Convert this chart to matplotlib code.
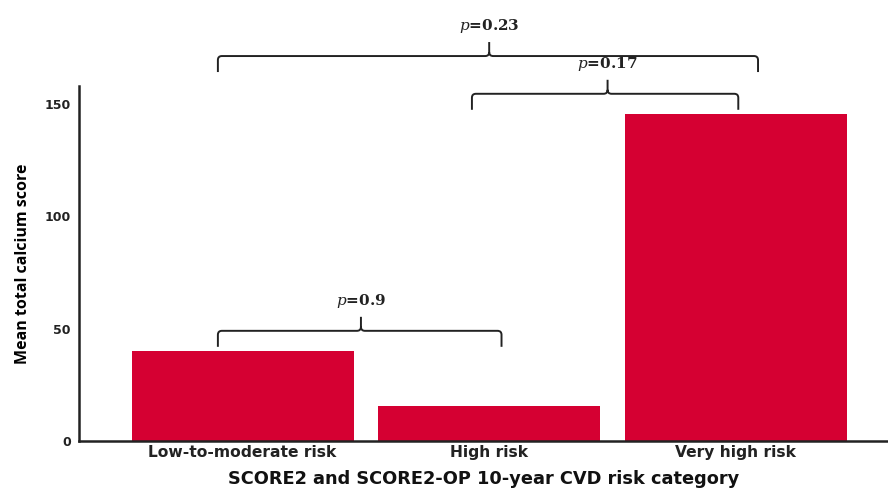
import numpy as np
import matplotlib
matplotlib.use("Agg")
import matplotlib.pyplot as plt
from matplotlib.path import Path
from matplotlib.patches import PathPatch

categories = ["Low-to-moderate risk", "High risk", "Very high risk"]
mean_cac = [40.0, 15.6, 145.5]
yticks = [0, 50, 100, 150]

# comparisons: (left x, right x, tip x, bracket height, p label)
comparisons = [
    (-0.10, 1.05, 0.48, 49.0, "0.9"),
    (0.93, 2.01, 1.48, 154.5, "0.17"),
    (-0.10, 2.09, 1.00, 171.3, "0.23"),
]

bar_color = "#D50032"

plt.rcParams["mathtext.fontset"] = "dejavuserif"

fig = plt.figure(figsize=(8.88, 4.91), dpi=100)
ax = fig.add_axes([0.089, 0.102, 0.911, 0.723])

x = np.arange(len(categories))
ax.bar(x, mean_cac, width=0.9, color=bar_color)

ax.set_xlim(-0.663, 2.617)
ax.set_ylim(0, 158)
ax.set_yticks(yticks)
ax.set_xticks(x)
ax.set_xticklabels(categories, fontsize=11.2, fontweight="bold", color="#222222")
ax.tick_params(axis="y", length=0, pad=6, labelsize=9, labelcolor="#222222")
ax.tick_params(axis="x", length=0, pad=3)
for lab in ax.get_yticklabels():
    lab.set_fontweight("bold")

for s in ["top", "right"]:
    ax.spines[s].set_visible(False)
for s in ["left", "bottom"]:
    ax.spines[s].set_linewidth(1.8)
    ax.spines[s].set_color("#222222")

ax.set_ylabel("Mean total calcium score", fontsize=11.5, family="Open Sans",
              fontweight="bold", labelpad=10)
ax.set_xlabel("SCORE2 and SCORE2-OP 10-year CVD risk category", fontsize=12.8,
              fontweight="bold", labelpad=7, color="#111111")

# pixel -> data scale for drawing braces
dx = 1 / 246.5
dy = 1 / 2.247


def brace(ax, x0, x1, xm, yh):
    r = 4
    leg = 16
    tip = 14
    verts = [
        (x0, yh - leg * dy),
        (x0, yh - r * dy), (x0, yh), (x0 + r * dx, yh),
        (xm - r * dx, yh), (xm, yh), (xm, yh + r * dy),
        (xm, yh + tip * dy),
        (xm, yh + r * dy), (xm, yh), (xm + r * dx, yh),
        (x1 - r * dx, yh), (x1, yh), (x1, yh - r * dy),
        (x1, yh - leg * dy),
    ]
    codes = [Path.MOVETO,
             Path.LINETO, Path.CURVE3, Path.CURVE3,
             Path.LINETO, Path.CURVE3, Path.CURVE3,
             Path.LINETO,
             Path.MOVETO, Path.CURVE3, Path.CURVE3,
             Path.LINETO, Path.CURVE3, Path.CURVE3,
             Path.LINETO]
    patch = PathPatch(Path(verts, codes), fill=False, lw=1.4,
                      edgecolor="#222222", clip_on=False)
    ax.add_patch(patch)


for x0, x1, xm, yh, p in comparisons:
    brace(ax, x0, x1, xm, yh)
    ax.text(xm, yh + 21 * dy, r"$\it{p}$=" + p, ha="center", va="bottom",
            fontsize=11, family="DejaVu Serif", fontweight="bold",
            color="#222222")

fig.savefig("out.png", dpi=100)
